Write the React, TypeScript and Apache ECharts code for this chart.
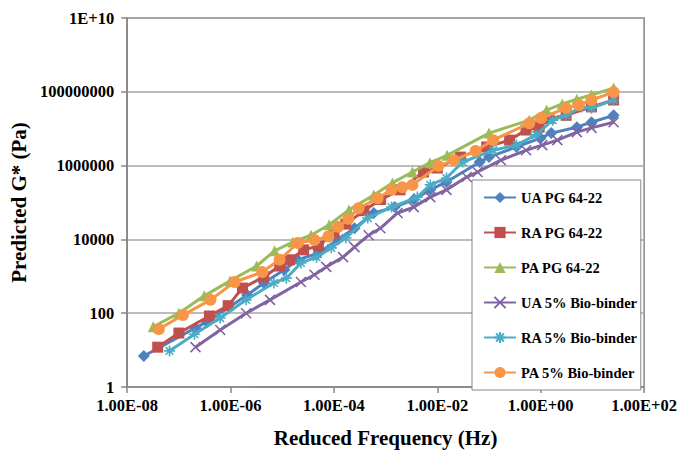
import React, { useEffect, useRef } from "react";
import * as echarts from "echarts";

// ---- Data ----
const uaPgFreq = [2.1e-8, 2.1e-7, 3.5e-7, 2.1e-6, 4.4e-6, 1.1e-5, 2.0e-5, 5.0e-5, 1.2e-4, 2.5e-4, 5.9e-4, 1.5e-3, 3.5e-3, 7.3e-3, 1.5e-2, 6.6e-2, 0.1, 0.34, 1.0, 1.6, 5.0, 9.6, 25.7];
const uaPgG = [6.9, 40, 58, 310, 660, 1500, 2800, 4200, 1.0e4, 2.0e4, 5.2e4, 7.5e4, 1.2e5, 2.2e5, 3.6e5, 1.25e6, 1.7e6, 3.2e6, 5.6e6, 7.6e6, 1.1e7, 1.5e7, 2.3e7];

const raPgFreq = [3.9e-8, 1.0e-7, 3.9e-7, 9.0e-7, 1.7e-6, 4.4e-6, 8.9e-6, 1.4e-5, 2.6e-5, 5.0e-5, 1.0e-4, 1.7e-4, 3.8e-4, 8.0e-4, 1.9e-3, 5.4e-3, 1.0e-2, 2.8e-2, 9.0e-2, 0.25, 0.52, 0.93, 1.45, 3.1, 9.6, 25.7];
const raPgG = [12, 29, 84, 160, 480, 960, 1900, 2800, 5200, 6600, 1.5e4, 2.6e4, 6.0e4, 1.2e5, 2.2e5, 6.7e5, 8.6e5, 1.7e6, 3.2e6, 4.9e6, 9.2e6, 1.1e7, 1.9e7, 2.3e7, 3.9e7, 6.0e7];

const paPgFreq = [3.2e-8, 1.0e-7, 3.1e-7, 9.8e-7, 3.2e-6, 7.1e-6, 1.6e-5, 3.6e-5, 8.1e-5, 1.95e-4, 5.9e-4, 1.35e-3, 3.3e-3, 7.2e-3, 1.55e-2, 0.1, 0.6, 1.3, 2.6, 5.0, 9.5, 25.7];
const paPgG = [43, 100, 295, 750, 1900, 4900, 8500, 1.3e4, 2.5e4, 6.3e4, 1.6e5, 3.4e5, 6.7e5, 1.2e6, 1.9e6, 7.6e6, 1.7e7, 3.2e7, 4.7e7, 6.3e7, 8.2e7, 1.26e8];

const ua5Freq = [2.1e-7, 6.3e-7, 2.0e-6, 5.8e-6, 2.3e-5, 4.2e-5, 7.1e-5, 1.5e-4, 2.5e-4, 4.7e-4, 7.9e-4, 1.7e-3, 3.5e-3, 7.3e-3, 1.5e-2, 3.7e-2, 6.0e-2, 0.17, 0.52, 1.07, 2.1, 5.0, 9.6, 25.7];
const ua5G = [12, 35, 100, 230, 700, 1100, 1800, 3300, 6200, 1.3e4, 2.0e4, 5.2e4, 7.5e4, 1.4e5, 2.2e5, 4.9e5, 6.7e5, 1.4e6, 2.6e6, 3.6e6, 4.9e6, 8.1e6, 1.05e7, 1.5e7];

const ra5Freq = [6.6e-8, 2.0e-7, 6.3e-7, 2.0e-6, 6.9e-6, 1.2e-5, 2.3e-5, 4.6e-5, 8.9e-5, 1.7e-4, 4.5e-4, 1.3e-3, 4.1e-3, 7.3e-3, 1.5e-2, 3.1e-2, 0.12, 0.34, 0.81, 1.7, 3.1, 6.2, 9.6, 25.7];
const ra5G = [9.5, 27, 74, 230, 660, 890, 2300, 3300, 5900, 1.1e4, 3.8e4, 7.5e4, 1.4e5, 3.0e5, 4.6e5, 1.25e6, 2.6e6, 3.6e6, 6.8e6, 1.7e7, 2.3e7, 3.9e7, 3.6e7, 6.0e7];

const pa5Freq = [4.1e-8, 1.2e-7, 4.1e-7, 1.2e-6, 4.1e-6, 8.9e-6, 2.0e-5, 4.2e-5, 7.8e-5, 1.2e-4, 1.9e-4, 3.0e-4, 7.0e-4, 1.3e-3, 2.1e-3, 3.3e-3, 1.05e-2, 2.1e-2, 5.5e-2, 0.12, 0.6, 1.02, 3.1, 5.5, 9.6, 25.7];
const pa5G = [37, 89, 230, 700, 1300, 2800, 8000, 9600, 1.2e4, 2.2e4, 3.6e4, 7.0e4, 1.3e5, 2.2e5, 2.6e5, 3.0e5, 9.8e5, 1.4e6, 2.5e6, 4.9e6, 1.4e7, 1.95e7, 3.6e7, 4.4e7, 6.0e7, 9.8e7];

const seriesNames = ["UA PG 64-22", "RA PG 64-22", "PA PG 64-22", "UA 5% Bio-binder", "RA 5% Bio-binder", "PA 5% Bio-binder"];

// ---- Styling ----
const FONT = "'Liberation Serif', 'Times New Roman', serif";
const COLORS = ["#4F81BD", "#C0504D", "#9BBB59", "#8064A2", "#4BACC6", "#F79646"];
const X_SYMBOL = "path://M0,0L10,10M10,0L0,10";
const STAR_SYMBOL = "path://M5,0L5,10M0,5L10,5M1.5,1.5L8.5,8.5M8.5,1.5L1.5,8.5";

function zip(xs: number[], ys: number[]) {
  return xs.map((x, i) => [x, ys[i]]);
}

function fmtX(v: number) {
  const e = Math.round(Math.log10(v));
  const sign = e < 0 ? "-" : "+";
  const a = Math.abs(e);
  return "1.00E" + sign + (a < 10 ? "0" + a : String(a));
}

function fmtY(v: number) {
  if (v >= 9.9e9) return "1E+10";
  return String(Math.round(v));
}

export default function App() {
  const ref = useRef<HTMLDivElement>(null);

  useEffect(() => {
    if (!ref.current) return;
    const chart = echarts.init(ref.current, undefined, { renderer: "svg" });

    const datasets = [
      zip(uaPgFreq, uaPgG),
      zip(raPgFreq, raPgG),
      zip(paPgFreq, paPgG),
      zip(ua5Freq, ua5G),
      zip(ra5Freq, ra5G),
      zip(pa5Freq, pa5G),
    ];
    const symbols = ["diamond", "rect", "triangle", X_SYMBOL, STAR_SYMBOL, "circle"];
    const sizes = [12, 11, 11, 10, 11, 12];

    const series = datasets.map((d, i) => {
      const stroked = i === 3 || i === 4;
      return {
        name: seriesNames[i],
        type: "line",
        data: d,
        symbol: symbols[i],
        symbolSize: sizes[i],
        showSymbol: true,
        lineStyle: { color: COLORS[i], width: 3 },
        itemStyle: stroked
          ? { color: COLORS[i], borderColor: COLORS[i], borderWidth: 1.6 }
          : { color: COLORS[i], borderWidth: 0 },
        z: 2 + i,
      };
    });

    const axisLineColor = "#868686";

    chart.setOption({
      animation: false,
      backgroundColor: "#ffffff",
      grid: {
        left: 124,
        right: 34,
        top: 18,
        bottom: 67,
        show: true,
        borderColor: axisLineColor,
        borderWidth: 1.5,
      },
      legend: {
        orient: "vertical",
        left: 472,
        top: 180,
        padding: [10, 3, 10, 11],
        itemGap: 20,
        itemWidth: 32,
        itemHeight: 14,
        borderColor: axisLineColor,
        borderWidth: 1,
        backgroundColor: "#ffffff",
        textStyle: { fontFamily: FONT, fontWeight: "bold", fontSize: 14.5, color: "#000" },
        data: seriesNames,
      },
      xAxis: {
        type: "log",
        logBase: 10,
        min: 1e-8,
        max: 1e2,
        interval: 2,
        name: "Reduced Frequency (Hz)",
        nameLocation: "middle",
        nameGap: 40,
        nameTextStyle: { fontFamily: FONT, fontWeight: "bold", fontSize: 21, color: "#000" },
        axisLine: { show: true, lineStyle: { color: axisLineColor, width: 1.5 } },
        axisTick: { show: true, length: 6, lineStyle: { color: axisLineColor, width: 1.5 } },
        minorTick: { show: false },
        splitLine: { show: false },
        axisLabel: {
          formatter: (v: number) => fmtX(v),
          fontFamily: FONT,
          fontWeight: "bold",
          fontSize: 16.5,
          color: "#000",
          margin: 10,
        },
      },
      yAxis: {
        type: "log",
        logBase: 10,
        min: 1,
        max: 1e10,
        interval: 2,
        name: "Predicted G* (Pa)",
        nameLocation: "middle",
        nameGap: 93,
        nameTextStyle: { fontFamily: FONT, fontWeight: "bold", fontSize: 21, color: "#000" },
        axisLine: { show: true, lineStyle: { color: axisLineColor, width: 1.5 } },
        axisTick: { show: true, length: 6, lineStyle: { color: axisLineColor, width: 1.5 } },
        splitLine: { show: true, lineStyle: { color: "#a6a6a6", width: 1.5 } },
        axisLabel: {
          formatter: (v: number) => fmtY(v),
          fontFamily: FONT,
          fontWeight: "bold",
          fontSize: 16.5,
          color: "#000",
          margin: 13,
        },
      },
      series,
    });

    return () => chart.dispose();
  }, []);

  return <div ref={ref} style={{ width: 680, height: 454, position: "absolute", left: 0, top: 0 }} />;
}
